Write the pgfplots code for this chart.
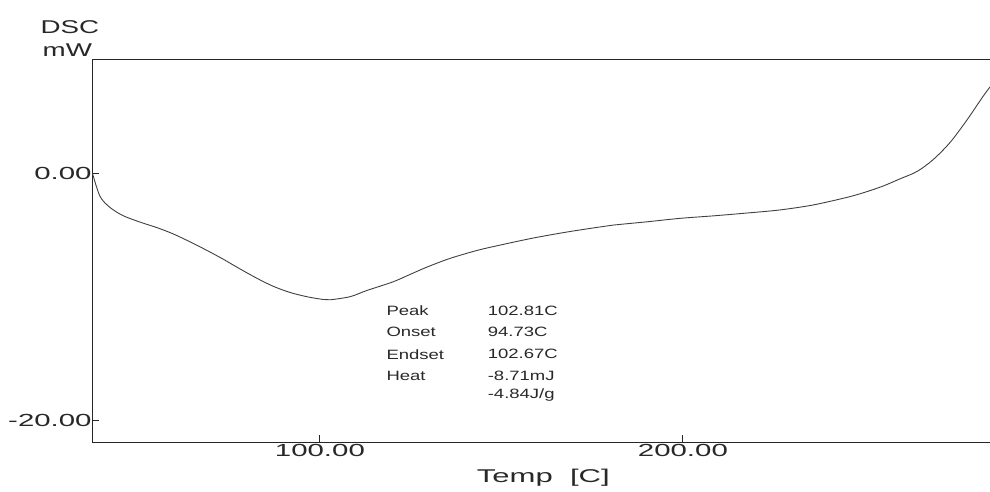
\documentclass[border=0pt]{standalone}
\usepackage{pgfplots}
\pgfplotsset{compat=1.18}
\usepackage{graphicx}
\usepackage{fontspec}
\setmainfont{Liberation Sans}
\newcommand{\hs}[1]{\scalebox{1.5}[1]{#1}}
\newcommand{\hwide}[1]{\scalebox{1.68}[1]{#1}}
\newcommand{\hsm}[1]{\scalebox{1.37}[1]{#1}}
\definecolor{txt}{RGB}{40,40,40}
\begin{document}
\begin{tikzpicture}
\begin{axis}[
  scale only axis,
  width=897.7pt, height=383pt,
  xmin=37.3, xmax=284.6,
  ymin=-21.8, ymax=9.24,
  axis x line*=box, axis y line*=left,
  axis line style={-, line width=1pt, black!85},
  xtick pos=bottom, ytick pos=left,
  tick align=inside,
  major tick length=7pt,
  tick style={line width=0.9pt, black!85},
  xtick={100,200}, xticklabels={\hwide{100.00},\hwide{200.00}},
  ytick={-20,0}, yticklabels={\hwide{-20.00},\hwide{0.00}},
  ticklabel style={font=\fontsize{17.5}{20}\selectfont, text=txt},
  yticklabel style={inner sep=0.5pt},
  xticklabel style={inner sep=1pt, yshift=-1pt},
  clip=true,
]
\addplot[line width=0.9pt, black!75, smooth, tension=0.5] coordinates {
(37.3,0.05) (39.4,-1.85) (42.1,-2.75) (45.7,-3.42) (50.4,-3.95) (55.1,-4.40)
(59.5,-4.90) (64.2,-5.55) (68.9,-6.25) (73.3,-6.95) (78.0,-7.75) (82.6,-8.50)
(87.1,-9.15) (91.7,-9.65) (96.4,-10.00) (100.8,-10.22) (102.8,-10.25)
(108.3,-10.00) (112.9,-9.50) (120.1,-8.80) (124.8,-8.20) (129.5,-7.60)
(135.8,-6.90) (143.3,-6.25) (149.6,-5.82) (158.7,-5.25) (168.0,-4.76)
(177.1,-4.35) (180.7,-4.20) (190.1,-3.93) (199.2,-3.65) (208.3,-3.45)
(217.6,-3.22) (226.7,-2.97) (235.8,-2.57) (245.2,-1.95) (250.0,-1.55)
(255.0,-1.05) (259.8,-0.45) (264.5,0.15) (268.9,1.10) (273.6,2.50)
(278.2,4.30) (282.6,6.20) (284.6,7.00)
};
\coordinate (SW) at (rel axis cs:0,0);
\coordinate (NE) at (rel axis cs:1,1);
\coordinate (NW) at (rel axis cs:0,1);
\begin{scope}[every node/.style={anchor=west, inner sep=0pt, text=txt, font=\fontsize{13.5}{15}\selectfont}]
\node at (axis cs:118.3,-11.14) {\hsm{Peak}};
\node at (axis cs:118.3,-12.87) {\hsm{Onset}};
\node at (axis cs:118.3,-14.66) {\hsm{Endset}};
\node at (axis cs:118.3,-16.44) {\hsm{Heat}};
\node at (axis cs:146.2,-11.14) {\hsm{102.81C}};
\node at (axis cs:146.2,-12.87) {\hsm{94.73C}};
\node at (axis cs:146.2,-14.66) {\hsm{102.67C}};
\node at (axis cs:146.2,-16.44) {\hsm{-8.71mJ}};
\node at (axis cs:146.2,-17.98) {\hsm{-4.84J/g}};
\end{scope}
\end{axis}
\node[text=txt, font=\fontsize{18.5}{20}\selectfont, inner sep=0pt] at ([xshift=-22.3pt,yshift=32.3pt]NW) {\hs{DSC}};
\node[text=txt, font=\fontsize{18.5}{20}\selectfont, inner sep=0pt] at ([xshift=-25pt,yshift=8.8pt]NW) {\hs{mW}};
\node[text=txt, font=\fontsize{18.5}{20}\selectfont, inner sep=0pt] at ([xshift=451pt,yshift=-35pt]SW) {\hwide{Temp\ \ [C]}};
\pgfresetboundingbox
\path ([xshift=-92.3pt,yshift=-48.7pt]SW) rectangle ([yshift=59.3pt]NE);
\end{tikzpicture}
\end{document}
